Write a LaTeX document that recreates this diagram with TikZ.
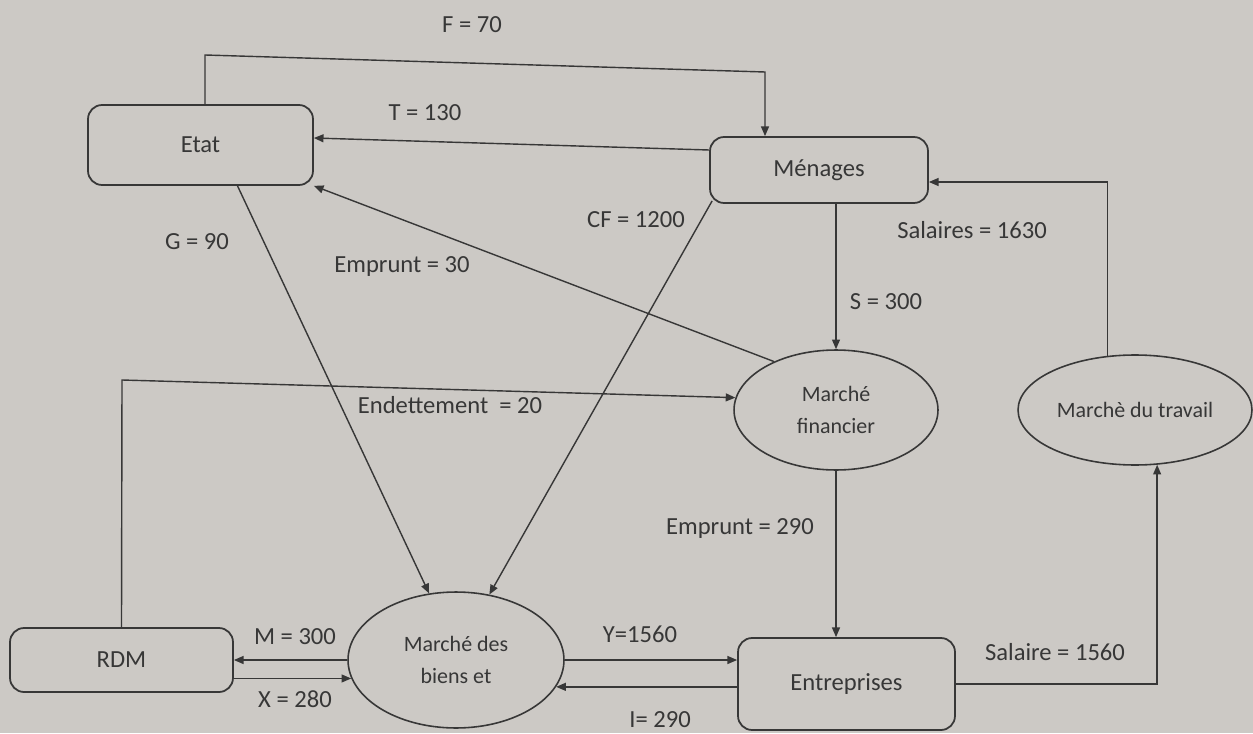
\documentclass[tikz,border=0pt]{standalone}
\usepackage{fontspec}
\setmainfont{Carlito}
\usetikzlibrary{arrows.meta,shapes.geometric,calc}
\definecolor{bg}{RGB}{204,201,197}
\definecolor{ink}{RGB}{55,55,55}
\begin{document}
\begin{tikzpicture}[x=0.02cm,y=-0.02cm,
  box/.style={draw=ink, line width=1pt, rounded corners=8pt, inner sep=0pt, font=\fontsize{14}{17}\selectfont, text=ink},
  mkt/.style={draw=ink, line width=0.9pt, ellipse, inner sep=0pt},
  mtext/.style={align=center, font=\fontsize{12.5}{18}\selectfont, text=ink},
  flow/.style={draw=ink, line width=0.8pt, -{Triangle[length=5.5pt,width=4.5pt]}},
  lbl/.style={font=\fontsize{14}{17}\selectfont, text=ink, inner sep=0pt}]
\fill[bg] (0,0) rectangle (1253,733);
\useasboundingbox (0,0) rectangle (1253,733);

% nodes
\node[box, minimum width=4.5cm, minimum height=1.6cm] (etat) at (200.5,145) {Etat};
\node[box, minimum width=4.36cm, minimum height=1.32cm] (men) at (819,170) {Ménages};
\node[box, minimum width=4.46cm, minimum height=1.28cm] (rdm) at (121.5,660) {RDM};
\node[box, minimum width=4.34cm, minimum height=1.84cm] (ent) at (846.5,684) {Entreprises};
\node[mkt, minimum width=4.08cm, minimum height=2.4cm, label={[mtext]center:Marché\\financier}] (mf) at (836,410) {};
\node[mkt, minimum width=4.68cm, minimum height=2.2cm, label={[mtext]center:Marchè du travail}] (mt) at (1135,410) {};
\node[mkt, minimum width=4.32cm, minimum height=2.72cm, label={[mtext]center:Marché des\\biens et}] (mb) at (456,660) {};

% bend points
\coordinate (f1) at (205,55);
\coordinate (f2) at (765,72);
\coordinate (e1) at (122,380);

% connectors
\draw[flow] (etat.north -| f1) -- (f1) -- (f2) -- (f2 |- men.north);
\draw[flow] ($(men.west)+(0,-20)$) -- ($(etat.east)+(0,-7)$);
\draw[flow] ($(etat.south)+(37,0)$) -- (mb.112);
\draw[flow] (mf.142) -- (etat.south east);
\draw[flow] ($(men.south west)+(3,-3)$) -- (mb.63);
\draw[flow] (men.south -| mf.north) -- (mf.north);
\draw[flow] (mt.117) |- ($(men.east)+(0,12)$);
\draw[flow] (rdm.north) -- (e1) -- (mf.173);
\draw[flow] (mf.south) -- (mf.south |- ent.north);
\draw[flow] (mb.east) -- (mb.east -| ent.west);
\draw[flow] (ent.west |- mb.-15) -- (mb.-15);
\draw[flow] (ent.east) -| (mt.-68);
\draw[flow] (mb.west) -- (mb.west -| rdm.east);
\draw[flow] (rdm.east |- mb.190) -- (mb.190);

% labels
\node[lbl] (lF) at (472,25) {F = 70};
\node[lbl] (lT) at (425,113) {T = 130};
\node[lbl] (lG) at (197,242) {G = 90};
\node[lbl] (lE30) at (402,266) {Emprunt = 30};
\node[lbl] (lCF) at (636,220) {CF = 1200};
\node[lbl] (lS) at (886,302) {S = 300};
\node[lbl] (lSal) at (972,230) {Salaires = 1630};
\node[lbl] (lEnd) at (450,405) {Endettement \ = 20};
\node[lbl] (lE290) at (740,528) {Emprunt = 290};
\node[lbl] (lY) at (640,634) {Y=1560};
\node[lbl] (lI) at (660,720) {I= 290};
\node[lbl] (lSal2) at (1055,652) {Salaire = 1560};
\node[lbl] (lM) at (295,637) {M = 300};
\node[lbl] (lX) at (295,699) {X = 280};
\end{tikzpicture}
\end{document}
